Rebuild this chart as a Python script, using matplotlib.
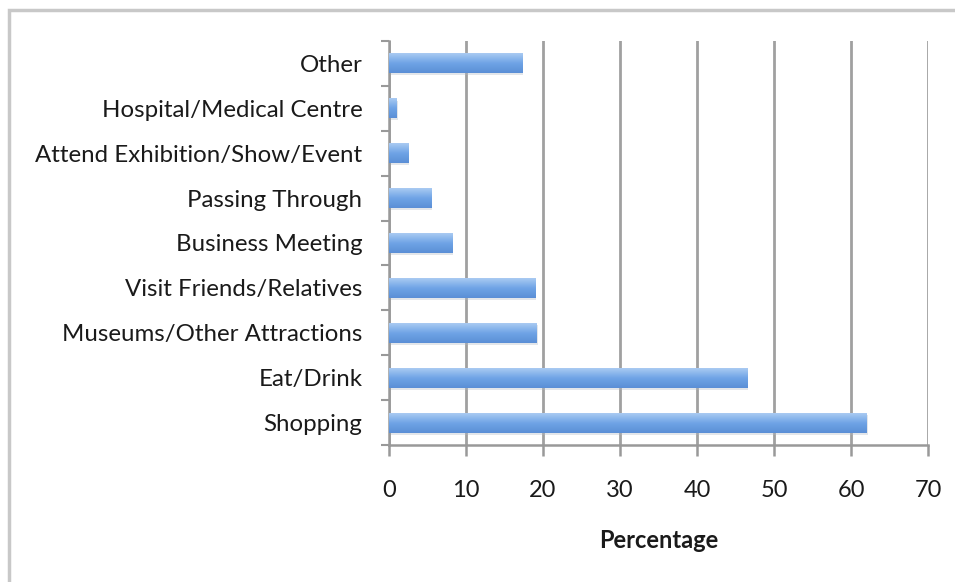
import matplotlib.pyplot as plt
from matplotlib.patches import Rectangle
from matplotlib.colors import LinearSegmentedColormap
import numpy as np

categories = ["Shopping", "Eat/Drink", "Museums/Other Attractions", "Visit Friends/Relatives",
              "Business Meeting", "Passing Through", "Attend Exhibition/Show/Event",
              "Hospital/Medical Centre", "Other"]
values = [62.0, 46.5, 19.2, 19.0, 8.2, 5.5, 2.5, 1.0, 17.3]

plt.rcParams['font.family'] = ['Lato', 'DejaVu Sans']

fig = plt.figure(figsize=(9.55, 5.82), dpi=100)
ax = fig.add_axes([0.407, 0.235, 0.565, 0.695])

y = np.arange(len(categories))
# soft shadow under each bar
ax.barh(y - 0.05, values, height=0.44, left=0.15, color='#b0b8c4', alpha=0.35, zorder=2,
        linewidth=0)
bars = ax.barh(y, values, height=0.44, color='#6a9fe2', zorder=3, linewidth=0)

# vertical gradient inside each bar
grad = LinearSegmentedColormap.from_list('g', ['#5b8fd6', '#6fa4e6', '#a9caf2'])
for b in bars:
    x0, y0 = b.get_x(), b.get_y()
    w, h = b.get_width(), b.get_height()
    ax.imshow(np.linspace(0, 1, 50).reshape(-1, 1), cmap=grad, aspect='auto',
              extent=(x0, x0 + w, y0, y0 + h), origin='lower', zorder=4)

ax.set_xlim(0, 70)
ax.set_ylim(-0.5, len(categories) - 0.5)
ax.set_xticks(range(0, 71, 10))
ax.set_yticks(y)
ax.set_yticklabels(categories)
ax.set_yticks(np.arange(-0.5, len(categories), 1.0), minor=True)
ax.tick_params(axis='y', which='major', length=0, pad=19, labelsize=17.3, labelcolor='#1a1a1a')
ax.tick_params(axis='y', which='minor', length=6, color='#999999', width=1.5)
ax.tick_params(axis='x', length=8, color='#999999', width=1.8, pad=17, labelsize=17,
               labelcolor='#1a1a1a')
ax.xaxis.grid(True, color='#a0a0a0', linewidth=2, zorder=0)
ax.set_axisbelow(True)
for s in ['top', 'right']:
    ax.spines[s].set_visible(False)
for s in ['left', 'bottom']:
    ax.spines[s].set_color('#999999')
    ax.spines[s].set_linewidth(1.8)
ax.set_xlabel('Percentage', fontweight='bold', fontsize=17, labelpad=20, color='#1a1a1a')

fig.patches.append(Rectangle((9 / 955, -0.1), 1.1, 1 - 10 / 582 + 0.1, transform=fig.transFigure,
                             fill=False, edgecolor='#c8c8c8', linewidth=2.5))

fig.savefig('out.png', dpi=100)
